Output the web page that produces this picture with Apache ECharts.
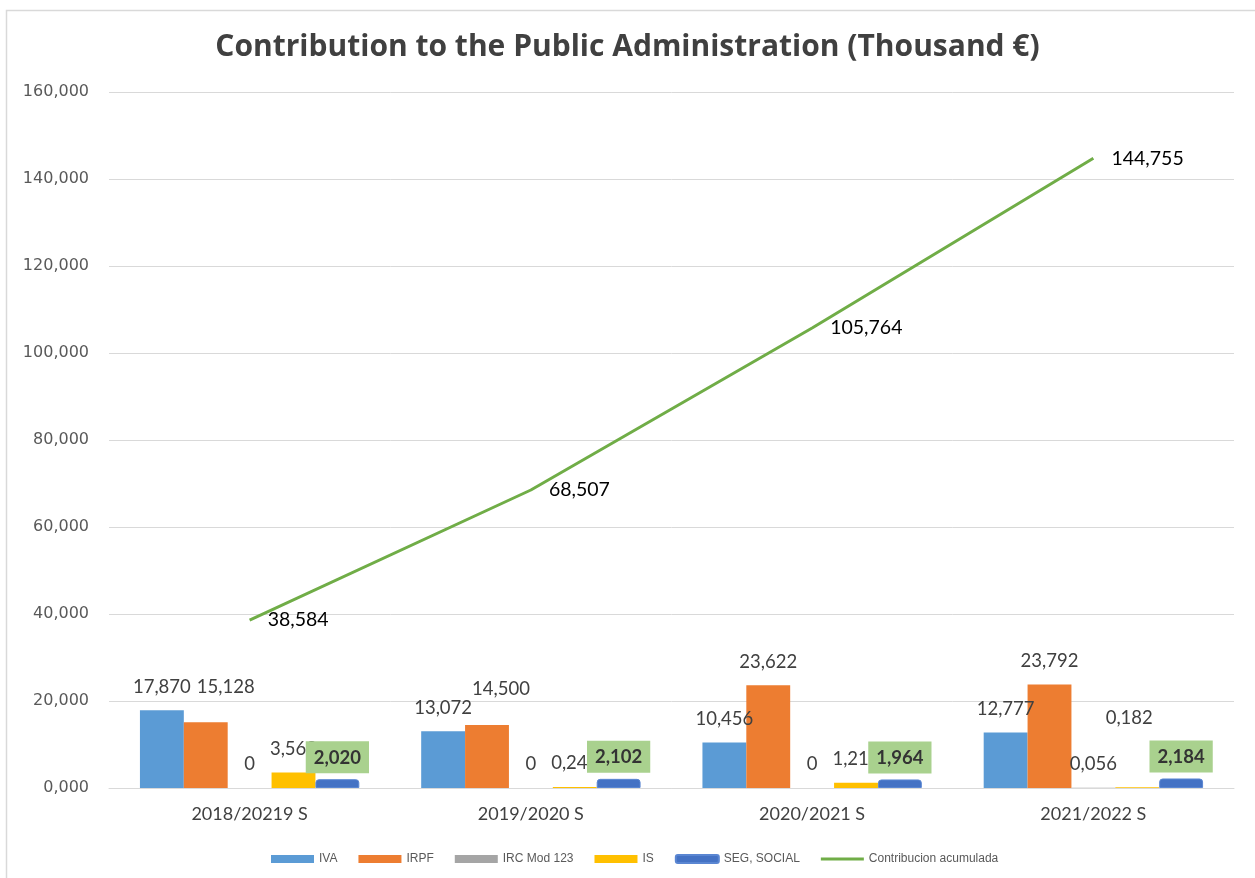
<!DOCTYPE html>
<html>
<head>
<meta charset="utf-8">
<script src="https://cdn.jsdelivr.net/npm/echarts@6/dist/echarts.min.js"></script>
<style>html,body{margin:0;padding:0;background:#fff;}#c{width:1255px;height:878px;}</style>
</head>
<body>
<div id="c"></div>
<script>
const categories = ['2018/20219 S', '2019/2020 S', '2020/2021 S', '2021/2022 S'];
const iva = [17870, 13072, 10456, 12777];
const irpf = [15128, 14500, 23622, 23792];
const irc = [0, 0, 0, 56];
const is = [3562, 240, 1214, 182];
const seg = [2020, 2102, 1964, 2184];
const acumulada = [38584, 68507, 105764, 144755];
const yTicks = [0, 20000, 40000, 60000, 80000, 100000, 120000, 140000, 160000];

function fmtPad(v, zeroText) {
  if (v === 0) return zeroText;
  const th = Math.floor(v / 1000);
  const rest = String(Math.round(v % 1000)).padStart(3, '0');
  return th.toLocaleString('en-US') + ',' + rest;
}

const chart = echarts.init(document.getElementById('c'));
const labelFont = 'Lato, "Noto Sans", sans-serif';
const baseLabel = {show: true, position: 'top', distance: 14, color: '#404040', fontSize: 18.5, fontFamily: labelFont,
  formatter: p => fmtPad(p.value, '0')};

function withOffsets(values, offsets) {
  return values.map((v, i) => offsets[i] ? {value: v, label: {offset: offsets[i]}} : v);
}

chart.setOption({
  animation: false,
  backgroundColor: '#fff',
  graphic: [{type: 'rect', shape: {x: 6.5, y: 10.5, width: 1400, height: 1000}, style: {fill: 'none', stroke: '#d9d9d9', lineWidth: 1.5}, silent: true}],
  title: {text: 'Contribution to the Public Administration (Thousand €)', left: 'center', top: 27,
    textStyle: {fontFamily: '"Open Sans", Lato, sans-serif', fontWeight: 'bold', fontSize: 30, color: '#404040'}},
  legend: {left: 266, top: 848, itemWidth: 43, itemHeight: 8, itemGap: 21,
    textStyle: {fontFamily: '"Liberation Sans Narrow", "Liberation Sans", sans-serif', fontSize: 12, color: '#595959'},
    data: [
      {name: 'IVA', icon: 'rect'}, {name: 'IRPF', icon: 'rect'}, {name: 'IRC Mod 123', icon: 'rect'},
      {name: 'IS', icon: 'rect'}, {name: 'SEG, SOCIAL', icon: 'roundRect'},
      {name: 'Contribucion acumulada', icon: 'path://M0,0 L40,0 L40,3 L0,3 Z'}
    ]},
  grid: {left: 109, right: 21, top: 92, bottom: 90},
  xAxis: {type: 'category', data: categories,
    axisLine: {lineStyle: {color: '#d9d9d9', width: 1}}, axisTick: {show: false},
    axisLabel: {margin: 17, fontSize: 18, fontFamily: labelFont, color: '#404040'}},
  yAxis: {type: 'value', min: 0, max: 160000, interval: 20000,
    axisLine: {show: false}, axisTick: {show: false},
    splitLine: {lineStyle: {color: '#d9d9d9', width: 1}},
    axisLabel: {margin: 20, fontSize: 16, fontFamily: '"DejaVu Sans", sans-serif', color: '#595959',
      formatter: v => fmtPad(v, '0,000')}},
  series: [
    {name: 'IVA', type: 'bar', data: iva, barGap: '0%', barCategoryGap: '22%',
      itemStyle: {color: '#5B9BD5'}, label: baseLabel},
    {name: 'IRPF', type: 'bar', data: withOffsets(irpf, [[20, -12], [14, -12], null, null]),
      itemStyle: {color: '#ED7D31'}, label: baseLabel},
    {name: 'IRC Mod 123', type: 'bar', data: irc, itemStyle: {color: '#A5A5A5'}, label: baseLabel},
    {name: 'IS', type: 'bar', data: withOffsets(is, [null, null, null, [-8, -46]]),
      itemStyle: {color: '#FFC000'}, label: baseLabel},
    {name: 'SEG, SOCIAL', type: 'bar', data: seg, z: 3,
      itemStyle: {color: '#4472C4', borderColor: '#5A86D2', borderWidth: 1, borderRadius: [3, 3, 0, 0]},
      label: {show: true, position: 'top', distance: 6, color: '#333', fontWeight: 'bold', fontSize: 18.5,
        fontFamily: labelFont, backgroundColor: '#A9D18E', padding: [7, 8, 6, 8],
        formatter: p => fmtPad(p.value, '0')}},
    {name: 'Contribucion acumulada', type: 'line', data: acumulada, symbol: 'circle', symbolSize: 0.1,
      lineStyle: {color: '#70AD47', width: 3}, itemStyle: {color: '#70AD47'},
      label: {show: true, position: 'right', distance: 18, color: '#000', fontSize: 19.5, fontFamily: labelFont,
        formatter: p => fmtPad(p.value, '0')}}
  ]
});
</script>
</body>
</html>
